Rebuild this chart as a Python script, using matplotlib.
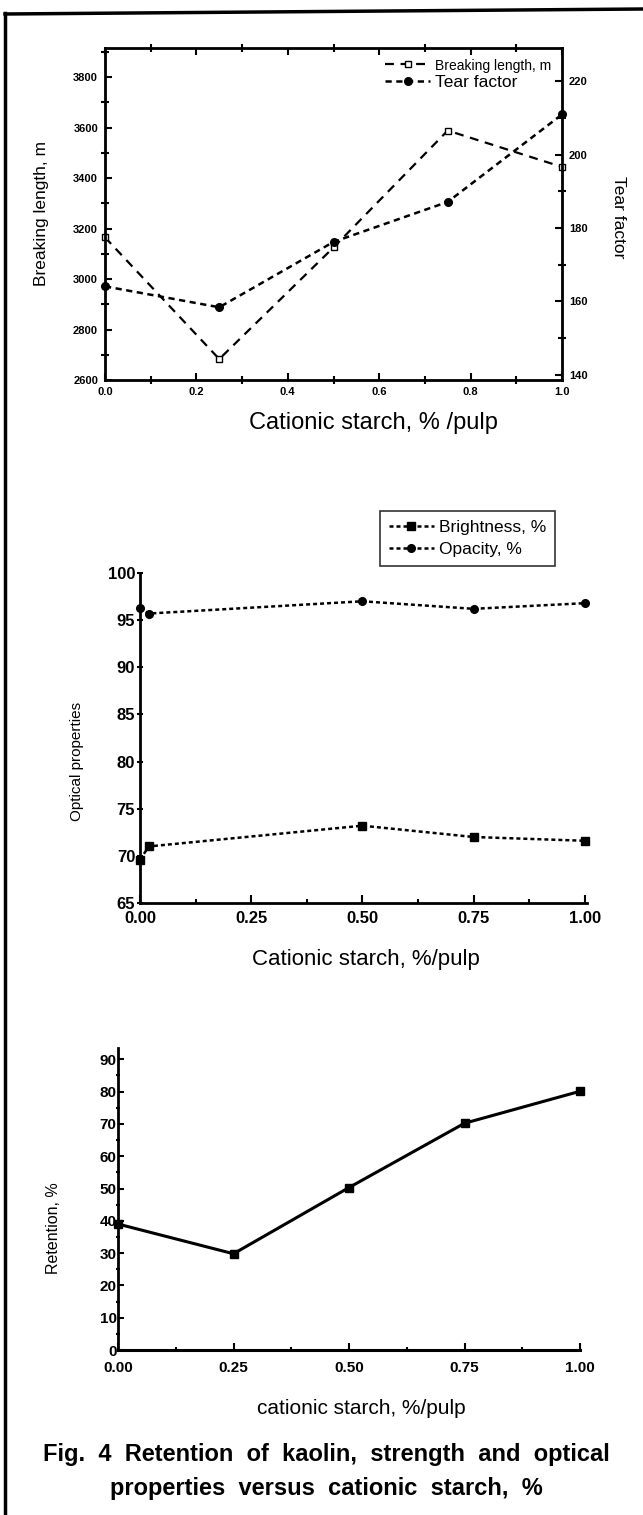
import matplotlib
matplotlib.use("Agg")
import matplotlib.pyplot as plt
from matplotlib.lines import Line2D
from matplotlib.ticker import MultipleLocator, FixedLocator

plt.rcParams['font.family'] = ['Liberation Sans', 'DejaVu Sans']

# ---------------------------
# data
# ---------------------------
starch = [0.0, 0.25, 0.5, 0.75, 1.0]
breaking_length = [3165, 2683, 3125, 3588, 3444]
tear_factor = [164.1, 158.4, 176.2, 187.1, 210.9]

starch_opt = [0.0, 0.02, 0.5, 0.75, 1.0]
brightness = [69.6, 71.0, 73.2, 72.0, 71.6]
opacity = [96.3, 95.7, 97.0, 96.2, 96.8]

retention = [39.0, 29.8, 50.3, 70.2, 80.1]

x_ticks_mid = [0.0, 0.25, 0.5, 0.75, 1.0]
x_ticklabels_mid = ['0.00', '0.25', '0.50', '0.75', '1.00']
caption = ['Fig.  4  Retention  of  kaolin,  strength  and  optical',
           'properties  versus  cationic  starch,  %']

W, H = 643, 1515
fig = plt.figure(figsize=(W / 100, H / 100), dpi=100)


def fx(px):
    return px / W


def fy(py):
    return 1 - py / H


# outer frame (top + left only, like the scanned page)
fig.add_artist(Line2D([fx(5), fx(5)], [0, fy(13)], transform=fig.transFigure, color='black', lw=2.5))
fig.add_artist(Line2D([fx(5), 1], [fy(14), fy(9)], transform=fig.transFigure, color='black', lw=2.5))

# ---------------------------
# top: breaking length / tear factor
# ---------------------------
ax1 = fig.add_axes([fx(105), fy(380), fx(562) - fx(105), fy(48) - fy(380)])
ax2 = ax1.twinx()
for sp in ax1.spines.values():
    sp.set_linewidth(2)
ax1.set_xlim(0, 1.0)
ax1.set_ylim(2600, 3915)
ax2.set_ylim(138.6, 229)

l1, = ax1.plot(starch, breaking_length, linestyle=(0, (4, 3)), color='black', lw=1.6,
               marker='s', mfc='white', mec='black', ms=5, mew=1, clip_on=False)
l2, = ax2.plot(starch, tear_factor, linestyle=(0, (2.5, 1.8)), color='black', lw=1.8,
               marker='o', mfc='black', mec='black', ms=5.5, clip_on=False)

ax1.xaxis.set_major_locator(MultipleLocator(0.2))
ax1.xaxis.set_minor_locator(MultipleLocator(0.1))
ax1.yaxis.set_major_locator(MultipleLocator(200))
ax1.yaxis.set_minor_locator(MultipleLocator(100))
ax2.yaxis.set_major_locator(MultipleLocator(20))
ax2.yaxis.set_minor_locator(MultipleLocator(10))
ax1.tick_params(which='major', direction='in', length=5, width=1.5, top=True, labelsize=8, pad=5)
ax1.tick_params(which='minor', direction='inout', length=6, width=1.5, top=True)
ax2.tick_params(which='major', direction='in', length=5, width=1.5, labelsize=8, pad=5)
ax2.tick_params(which='minor', direction='inout', length=6, width=1.5)
for lab in ax1.get_xticklabels() + ax1.get_yticklabels() + ax2.get_yticklabels():
    lab.set_fontweight('bold')

leg1 = ax1.legend([l1, l2], ['Breaking length, m', 'Tear factor'], loc='upper left',
                  bbox_to_anchor=(fx(385), fy(58)), bbox_transform=fig.transFigure,
                  frameon=False, handlelength=2.6, handletextpad=0.3, borderaxespad=0,
                  borderpad=0, labelspacing=0.1, fontsize=12.5)
leg1.get_texts()[0].set_fontsize(10)

fig.text(fx(42), fy(213), 'Breaking length, m', rotation=90, ha='center', va='center', fontsize=12.5)
fig.text(fx(618), fy(217), 'Tear factor', rotation=270, ha='center', va='center', fontsize=12.5)
fig.text(fx(373), fy(423), 'Cationic starch, % /pulp', ha='center', va='center', fontsize=17)

# ---------------------------
# middle: optical properties
# ---------------------------
ax3 = fig.add_axes([fx(140), fy(903), fx(587) - fx(140), fy(573) - fy(903)])
ax3.spines['top'].set_visible(False)
ax3.spines['right'].set_visible(False)
ax3.spines['left'].set_linewidth(2)
ax3.spines['bottom'].set_linewidth(2)
ax3.set_xlim(0, 1.005)
ax3.set_ylim(65, 100)

l3, = ax3.plot(starch_opt, brightness, linestyle=(0, (1.6, 1.2)), color='black', lw=1.8,
               marker='s', ms=5.5, mfc='black', mec='black', clip_on=False)
l4, = ax3.plot(starch_opt, opacity, linestyle=(0, (1.6, 1.2)), color='black', lw=1.8,
               marker='o', ms=5.5, mfc='black', mec='black', clip_on=False)

ax3.xaxis.set_major_locator(FixedLocator(x_ticks_mid))
ax3.set_xticklabels(x_ticklabels_mid)
ax3.xaxis.set_minor_locator(MultipleLocator(0.125))
ax3.yaxis.set_major_locator(MultipleLocator(5))
ax3.tick_params(axis='x', which='major', direction='in', length=6, width=1.5, labelsize=12, pad=6)
ax3.tick_params(axis='x', which='minor', direction='in', length=3, width=1.5)
ax3.tick_params(axis='y', which='major', direction='inout', length=5, width=1.5, labelsize=12, pad=1)
for lab in ax3.get_xticklabels() + ax3.get_yticklabels():
    lab.set_fontweight('bold')

leg2 = ax3.legend([l3, l4], ['Brightness, %', 'Opacity, %'], loc='upper left',
                  bbox_to_anchor=(fx(380), fy(511)), bbox_transform=fig.transFigure,
                  frameon=True, fancybox=False, edgecolor='black', handlelength=2.6,
                  handletextpad=0.3, borderaxespad=0, borderpad=0.5, labelspacing=0.4,
                  fontsize=12.5)
leg2.get_frame().set_linewidth(1.2)

fig.text(fx(77), fy(761), 'Optical properties', rotation=90, ha='center', va='center', fontsize=11)
fig.text(fx(366), fy(960), 'Cationic starch, %/pulp', ha='center', va='center', fontsize=16)

# ---------------------------
# bottom: retention
# ---------------------------
ax4 = fig.add_axes([fx(118), fy(1350), fx(580) - fx(118), fy(1048) - fy(1350)])
ax4.spines['top'].set_visible(False)
ax4.spines['right'].set_visible(False)
ax4.spines['left'].set_linewidth(2)
ax4.spines['bottom'].set_linewidth(2.2)
ax4.set_xlim(0, 1.0)
ax4.set_ylim(0, 93.5)

ax4.plot(starch, retention, color='black', lw=2.2, marker='s', ms=5.5,
         mfc='black', mec='black', clip_on=False)

ax4.xaxis.set_major_locator(FixedLocator(x_ticks_mid))
ax4.set_xticklabels(x_ticklabels_mid)
ax4.xaxis.set_minor_locator(MultipleLocator(0.125))
ax4.yaxis.set_major_locator(MultipleLocator(10))
ax4.yaxis.set_minor_locator(MultipleLocator(5))
ax4.tick_params(axis='x', which='major', direction='in', length=5, width=1.5, labelsize=11, pad=8)
ax4.tick_params(axis='x', which='minor', direction='in', length=2.5, width=1.5)
ax4.tick_params(axis='y', which='major', direction='in', length=4, width=1.5, labelsize=11, pad=1)
ax4.tick_params(axis='y', which='minor', direction='inout', length=3, width=1.5)
for lab in ax4.get_xticklabels() + ax4.get_yticklabels():
    lab.set_fontweight('bold')

fig.text(fx(53), fy(1228), 'Retention, %', rotation=90, ha='center', va='center', fontsize=11.5)
fig.text(fx(361), fy(1408), 'cationic starch, %/pulp', ha='center', va='center', fontsize=15)

fig.text(fx(326), fy(1455), caption[0], ha='center', va='center', fontsize=17, fontweight='bold')
fig.text(fx(326), fy(1488), caption[1], ha='center', va='center', fontsize=17, fontweight='bold')

fig.savefig('out.png', dpi=100, facecolor='white')
